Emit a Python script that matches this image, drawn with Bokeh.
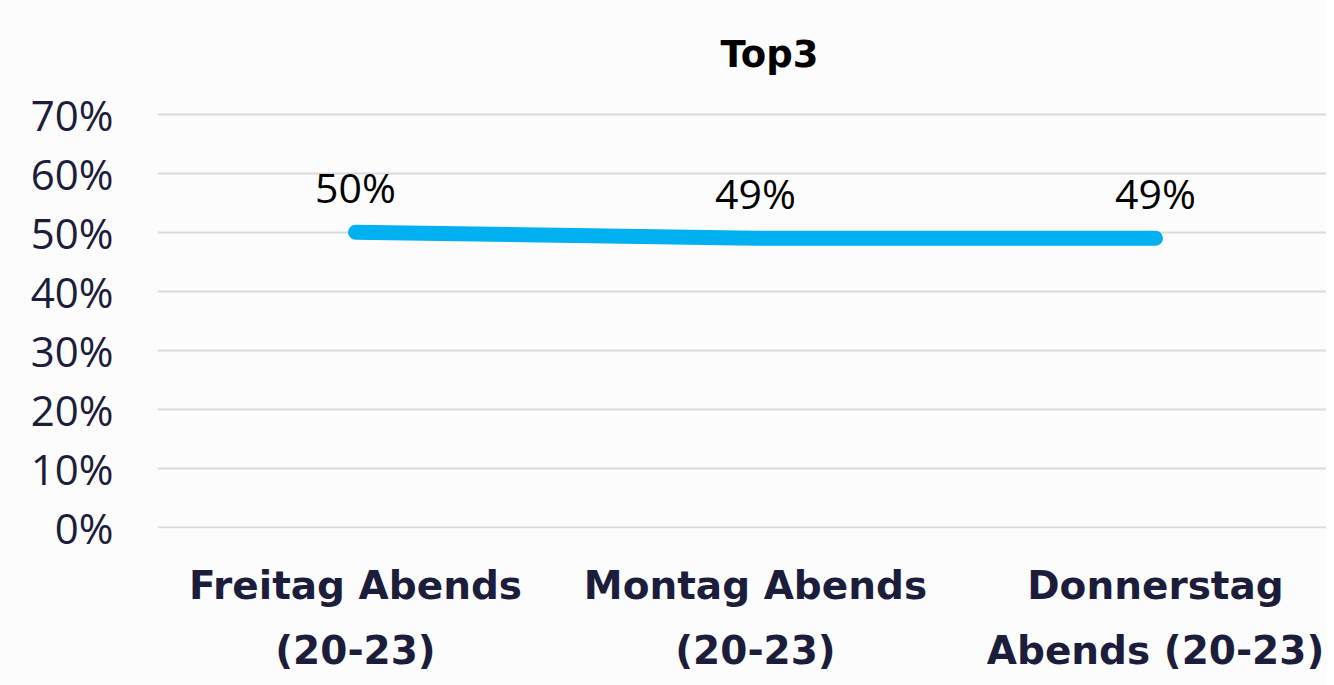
from bokeh.plotting import figure
from bokeh.models import Range1d, FixedTicker, LabelSet, ColumnDataSource, NumeralTickFormatter
from bokeh.core.properties import value
from bokeh.embed import file_html
from bokeh.resources import INLINE

categories = ["Freitag Abends\n(20-23)", "Montag Abends\n(20-23)", "Donnerstag\nAbends (20-23)"]
values = [0.50, 0.49, 0.49]
value_labels = ["50%", "49%", "49%"]
y_ticks = [0.0, 0.1, 0.2, 0.3, 0.4, 0.5, 0.6, 0.7]

idx = list(range(len(categories)))
src = ColumnDataSource(dict(x=idx, y=values, lab=value_labels))

p = figure(width=1326, height=685, output_backend="svg", toolbar_location=None,
           x_range=Range1d(-0.495, 2.4275), y_range=Range1d(-0.002, 0.72),
           min_border_left=157, min_border_right=0, min_border_top=102, min_border_bottom=157,
           title="Top3")
p.title.align = "left"
p.title.offset = 563
p.title.standoff = 50
p.title.vertical_align = "top"
p.title.text_font = "DejaVu Sans"
p.title.text_font_style = "bold"
p.title.text_font_size = "37px"
p.title.text_color = "#000000"
p.outline_line_color = None
p.background_fill_color = "#FCFCFC"
p.border_fill_color = "#FCFCFC"

p.xgrid.grid_line_color = None
p.ygrid.grid_line_color = "#D9D9D9"
p.ygrid.grid_line_width = 2

p.yaxis.ticker = FixedTicker(ticks=y_ticks)
p.yaxis.formatter = NumeralTickFormatter(format="0%")
p.yaxis.axis_line_color = None
p.yaxis.major_tick_line_color = None
p.yaxis.minor_tick_line_color = None
p.yaxis.major_label_text_font = "Open Sans"
p.yaxis.major_label_text_font_size = "42px"
p.yaxis.major_label_text_color = "#1B1D3A"
p.yaxis.major_label_standoff = 38

p.xaxis.ticker = FixedTicker(ticks=idx)
p.xaxis.major_label_overrides = {i: c for i, c in zip(idx, categories)}
p.xaxis.axis_line_color = None
p.xaxis.major_tick_line_color = None
p.xaxis.minor_tick_line_color = None
p.xaxis.major_label_text_font = "DejaVu Sans"
p.xaxis.major_label_text_font_style = "bold"
p.xaxis.major_label_text_font_size = "39px"
p.xaxis.major_label_text_color = "#1B1D3A"
p.xaxis.major_label_text_line_height = 1.46
p.xaxis.major_label_standoff = 28

p.line("x", "y", source=src, line_color="#00B0F0", line_width=15, line_cap="round")

labels = LabelSet(x="x", y="y", text="lab", source=src, y_offset=29,
                  text_align="center", text_baseline="alphabetic",
                  text_font=value("Open Sans"), text_font_size=value("41px"), text_color="#000000")
p.add_layout(labels)

open("out.html", "w").write(file_html(p, INLINE))
